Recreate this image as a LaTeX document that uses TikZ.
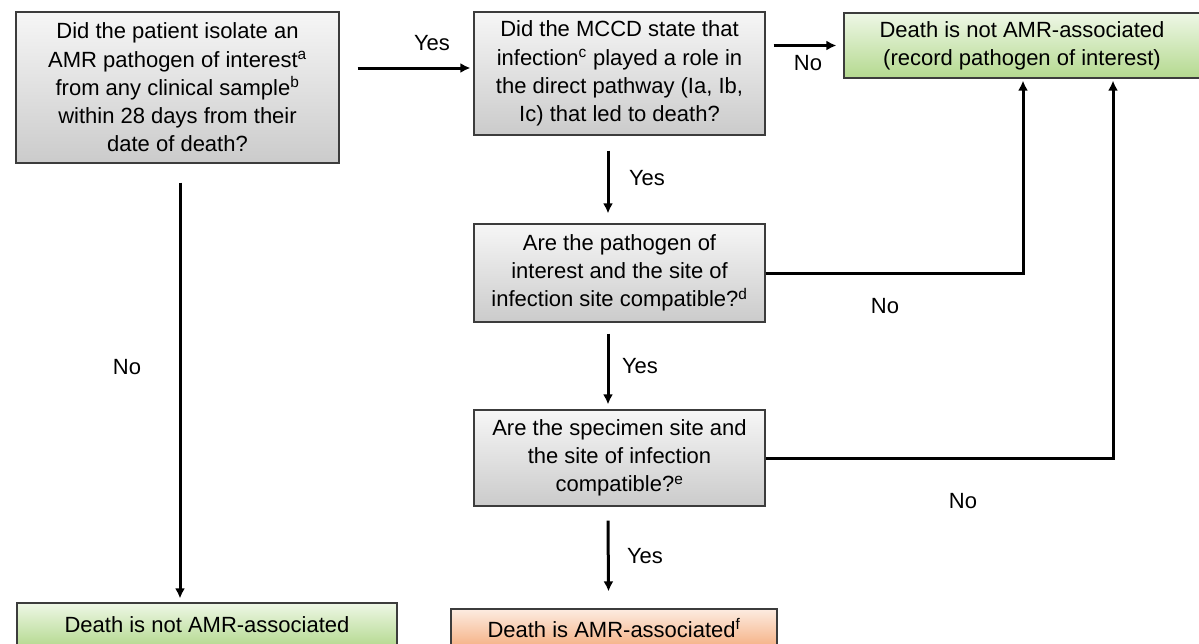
\documentclass[tikz,border=0pt]{standalone}
\usepackage{fontspec}
\setmainfont{Liberation Sans}
\usepackage{tikz}
\usepackage{xcolor}
\usetikzlibrary{arrows.meta,calc}

\definecolor{boxline}{HTML}{3C3C3C}
\definecolor{greytop}{HTML}{F6F6F6}
\definecolor{greybot}{HTML}{CBCBCB}
\definecolor{greentop}{HTML}{EEF7E6}
\definecolor{greenbot}{HTML}{B4D98F}
\definecolor{orangetop}{HTML}{FDECE1}
\definecolor{orangebot}{HTML}{F5B185}

\begin{document}
\begin{tikzpicture}[x=1pt,y=-1pt,
    font=\fontsize{22}{28.3}\selectfont,
    box/.style={draw=boxline,line width=1.2pt,align=center,inner sep=0pt},
    qbox/.style={box,top color=greytop,bottom color=greybot},
    gbox/.style={box,top color=greentop,bottom color=greenbot},
    obox/.style={box,top color=orangetop,bottom color=orangebot},
    arr/.style={-{Latex[length=10pt,width=10pt]},line width=3pt},
    lbl/.style={inner sep=0pt}]
      \useasboundingbox (0,0) rectangle (1199,643);
      \clip (0,0) rectangle (1199,643);

      \node[qbox,minimum width=323pt,minimum height=151pt] (q1) at (177.5,87.5)
        {Did the patient isolate an\\AMR pathogen of interest\textsuperscript{a}\\from any clinical sample\textsuperscript{b}\\within 28 days from their\\date of death?};
      \node[qbox,minimum width=291pt,minimum height=123pt] (q2) at (619.5,73.5)
        {Did the MCCD state that\\infection\textsuperscript{c} played a role in\\the direct pathway (Ia, Ib,\\Ic) that led to death?};
      \node[qbox,minimum width=291pt,minimum height=98pt] (q3) at (619.5,273)
        {Are the pathogen of\\interest and the site of\\infection site compatible?\textsuperscript{d}};
      \node[qbox,minimum width=291pt,minimum height=96pt] (q4) at (619.5,458)
        {Are the specimen site and\\the site of infection\\compatible?\textsuperscript{e}};

      \node[gbox,minimum width=356pt,minimum height=65pt] (r1) at (1022,45.5)
        {Death is not AMR-associated\\(record pathogen of interest)};
      \node[gbox,minimum width=380pt,minimum height=44pt] (r2) at (207,625)
        {Death is not AMR-associated};
      \node[obox,minimum width=326pt,minimum height=38pt] (r3) at (614,628)
        {Death is AMR-associated\textsuperscript{f}};

      \node[lbl] (yes1) at (432,43) {Yes};
      \node[lbl] (no1) at (808,63) {No};
      \node[lbl] (yes2) at (647,178) {Yes};
      \node[lbl] (yes3) at (640,366) {Yes};
      \node[lbl] (yes4) at (645,556) {Yes};
      \node[lbl] (no2) at (127,367) {No};
      \node[lbl] (no3) at (885,306) {No};
      \node[lbl] (no4) at (963,501) {No};

      \draw[arr,shorten >=3pt] ([xshift=18pt,yshift=19.5pt]q1.east) -- ([yshift=19.5pt]q1.east -| q2.west);
      \draw[arr,shorten >=7pt] ([xshift=8pt]q2.east |- r1.west) -- (r1.west);
      \draw[arr] ([xshift=-11.5pt,yshift=-15pt]q2.south) -- ([xshift=-11.5pt,yshift=10pt]q3.north);
      \draw[arr] ([xshift=-11.5pt,yshift=-11pt]q3.south) -- ([xshift=-11.5pt,yshift=5pt]q4.north);
      \draw[arr] ([xshift=-11.5pt,yshift=-14pt]q4.south) -- ([xshift=-5.5pt,yshift=17pt]r3.north);
      \draw[arr] ([xshift=2.5pt,yshift=-19pt]q1.south) -- ([xshift=-27pt,yshift=4pt]r2.north);
      \draw[arr,shorten >=2pt] (q3.east) -| ([xshift=1pt]r1.south);
      \draw[arr,shorten >=2pt] (q4.east) -| ([xshift=91pt]r1.south);
\end{tikzpicture}
\end{document}
